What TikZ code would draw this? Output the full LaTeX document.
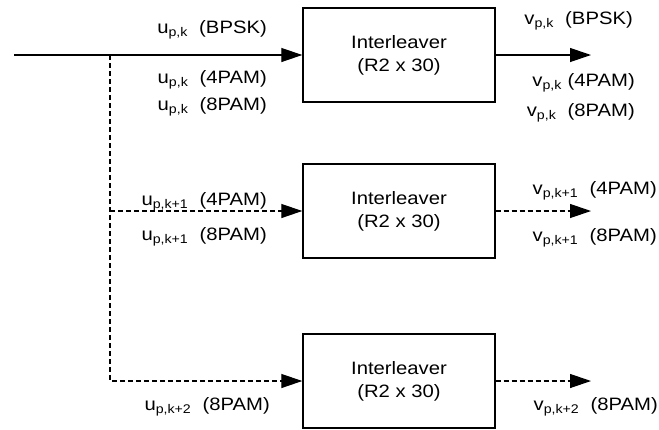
\documentclass[tikz,border=0pt]{standalone}
\usepackage{fontspec}
\setmainfont{Liberation Sans}[FakeStretch=1.13]
\usetikzlibrary{arrows.meta}

\begin{document}
\begin{tikzpicture}[x=1bp, y=-1bp,
      font=\fontsize{18}{23}\selectfont,
      ilbox/.style={draw, line width=1.4bp, minimum width=192bp, minimum height=94bp,
                    align=center, inner sep=0pt},
      arr/.style={-{Triangle[length=21bp,width=14bp]}, line width=1.2bp},
      darr/.style={arr, dash pattern=on 5bp off 3bp},
      lbl/.style={anchor=base east, inner sep=0pt}
    ]
    \useasboundingbox (0,0) rectangle (659,429);
    % ------------- interleavers -------------
    \node[ilbox] (il1) at (399,55) {Interleaver\\(R2 x 30)};
    \node[ilbox] (il2) at (399,211) {Interleaver\\(R2 x 30)};
    \node[ilbox] (il3) at (399,381) {Interleaver\\(R2 x 30)};
    % ------------- connectors -------------
    \coordinate (in) at (14,55);
    \coordinate (br) at (110,55);
    \coordinate (o1) at (591,55);
    \coordinate (o2) at (591,211);
    \coordinate (o3) at (591,381);
    \draw[arr] (in) -- (il1);
    \draw[arr] (il1) -- (o1);
    \draw[darr] (br) |- (il3);
    \draw[darr] (br |- il2) -- (il2);
    \draw[darr] (il2) -- (o2);
    \draw[darr] (il3) -- (o3);
    % ------------- labels -------------
    \node[lbl] (u1a) at (267,33) {u\textsubscript{p,k}\ \ (BPSK)};
    \node[lbl] (u1b) at (267,83) {u\textsubscript{p,k}\ \ (4PAM)};
    \node[lbl] (u1c) at (267,110) {u\textsubscript{p,k}\ \ (8PAM)};
    \node[lbl] (v1a) at (633,24) {v\textsubscript{p,k}\ \ (BPSK)};
    \node[lbl] (v1b) at (635,86) {v\textsubscript{p,k}\ (4PAM)};
    \node[lbl] (v1c) at (635,116) {v\textsubscript{p,k}\ \ (8PAM)};
    \node[lbl] (u2a) at (267,205) {u\textsubscript{p,k+1}\ \ (4PAM)};
    \node[lbl] (u2b) at (267,240) {u\textsubscript{p,k+1}\ \ (8PAM)};
    \node[lbl] (v2a) at (657,194) {v\textsubscript{p,k+1}\ \ (4PAM)};
    \node[lbl] (v2b) at (657,241) {v\textsubscript{p,k+1}\ \ (8PAM)};
    \node[lbl] (u3) at (270,410) {u\textsubscript{p,k+2}\ \ (8PAM)};
    \node[lbl] (v3) at (658,410) {v\textsubscript{p,k+2}\ \ (8PAM)};
  \end{tikzpicture}
\end{document}
